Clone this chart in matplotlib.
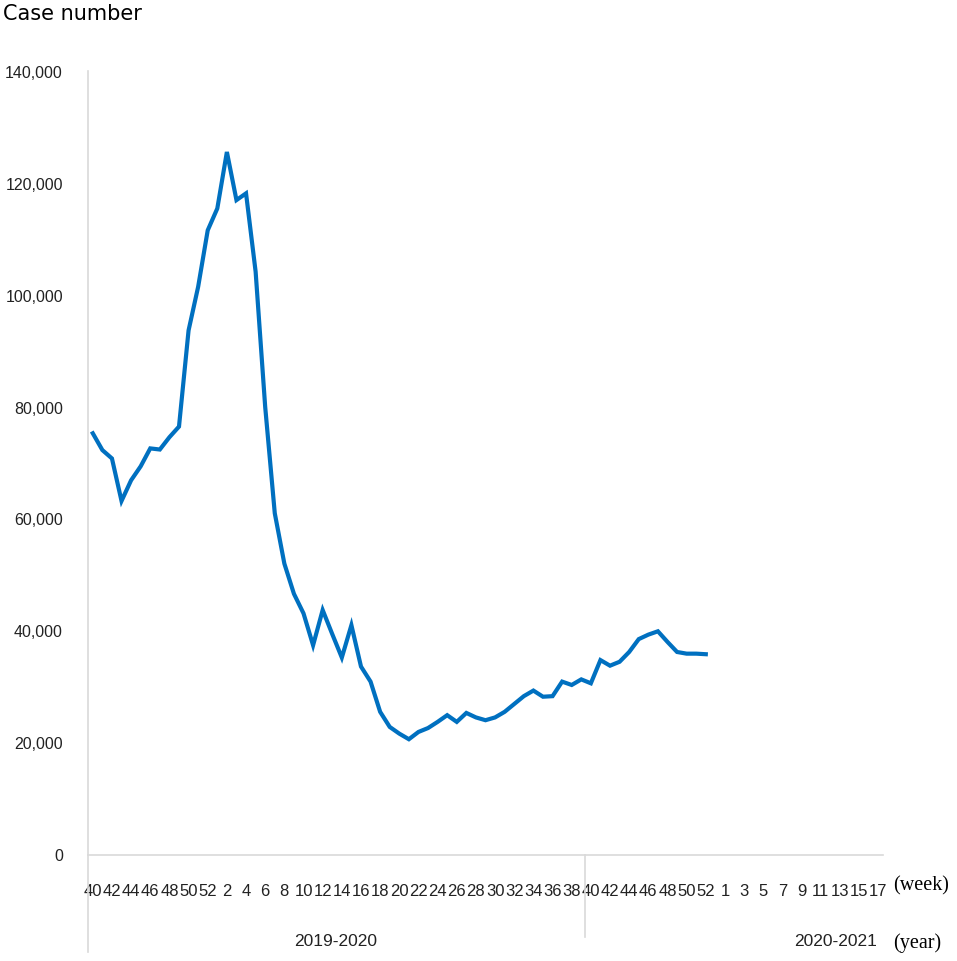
import matplotlib
matplotlib.use("Agg")
import matplotlib.pyplot as plt
from matplotlib.lines import Line2D

# week categories on the x axis: 2019 w40 .. 2021 w17 (2020 has 53 ISO weeks)
weeks_2019 = list(range(40, 53))
weeks_2020 = list(range(1, 54))
weeks_2021 = list(range(1, 18))
weeks = weeks_2019 + weeks_2020 + weeks_2021

# weekly case numbers, 2019 w40 .. 2020 w52
cases = [75400, 72400, 70900, 63300, 67000, 69500, 72700, 72500, 74700, 76600,
         93800, 101600, 111700, 115600, 125700, 117100, 118300, 104300, 80100, 61100,
         52100, 46700, 43200, 37500, 43800, 39500, 35300, 41100, 33700, 31000,
         25600, 22900, 21700, 20700, 22000, 22700, 23800, 25000, 23800, 25400,
         24600, 24100, 24600, 25600, 27000, 28400, 29400, 28300, 28400, 31000,
         30400, 31400, 30700, 34850, 33850, 34550, 36300, 38600, 39400, 40000,
         38100, 36300, 36000, 36000, 35900]

season_labels = ["2019-2020", "2020-2021"]
yticks = [0, 20000, 40000, 60000, 80000, 100000, 120000, 140000]

narrow = ["Liberation Sans", "DejaVu Sans"]
serif = ["Liberation Serif", "DejaVu Serif"]
axis_grey = "#d9d9d9"
txt = "#222222"

fig = plt.figure(figsize=(9.57, 9.61), dpi=100)
ax = fig.add_axes([88 / 957, 106 / 961, 795 / 957, 783 / 961])

ax.plot(range(len(cases)), cases, color="#0070C0", linewidth=3.0,
        solid_joinstyle="miter")

ax.set_xlim(-0.5, len(weeks) - 0.5)
ax.set_ylim(0, 140000)

for s in ["top", "right", "left"]:
    ax.spines[s].set_visible(False)
ax.spines["bottom"].set_color(axis_grey)
ax.spines["bottom"].set_linewidth(1.2)

ax.set_yticks(yticks)
ax.set_yticklabels([f"{v:,}" for v in yticks], family=narrow, fontsize=11.5,
                   color=txt)
tick_pos = list(range(0, len(weeks), 2))
ax.set_xticks(tick_pos)
ax.set_xticklabels([str(weeks[i]) for i in tick_pos], family=narrow,
                   fontsize=12, color=txt)
ax.tick_params(axis="x", length=0, pad=21)
ax.tick_params(axis="y", length=0, pad=18)

# axis lines that run below the plot (Excel style two-level category axis)
left_line = Line2D([88, 88], [961 - 71, 961 - 952], transform=None,
                   color=axis_grey, linewidth=1.2)
sep_line = Line2D([585, 585], [961 - 855, 961 - 937], transform=None,
                  color=axis_grey, linewidth=1.2)
fig.add_artist(left_line)
fig.add_artist(sep_line)

fig.text(336 / 957, 1 - 942 / 961, season_labels[0], family=narrow,
         fontsize=12.5, ha="center", va="center", color=txt)
fig.text(836 / 957, 1 - 942 / 961, season_labels[1], family=narrow,
         fontsize=12.5, ha="center", va="center", color=txt)
fig.text(893 / 957, 1 - 886 / 961, "(week)", family=serif, fontsize=14.5,
         ha="left", va="center")
fig.text(893 / 957, 1 - 943 / 961, "(year)", family=serif, fontsize=14.5,
         ha="left", va="center")
fig.text(3 / 957, 1 - 14 / 961, "Case number", fontsize=15,
         ha="left", va="center")

fig.savefig("out.png", dpi=100)
